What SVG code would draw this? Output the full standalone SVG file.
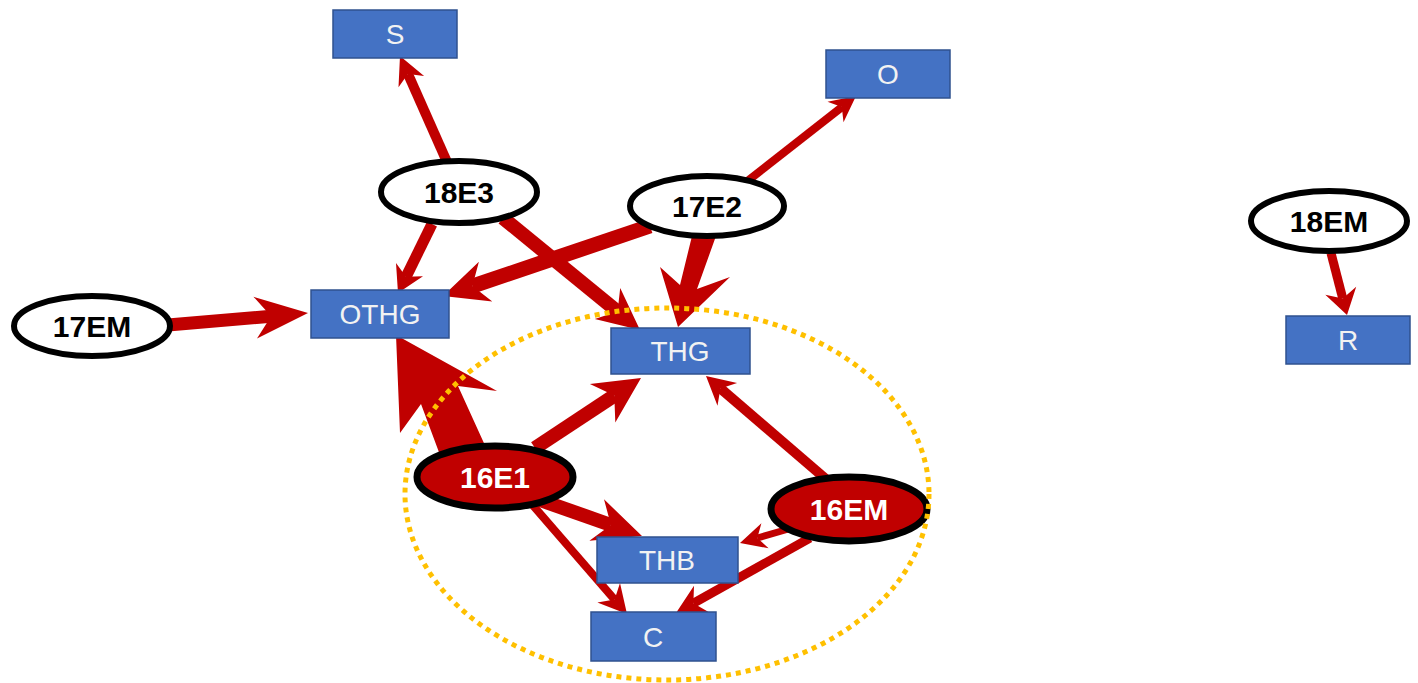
<svg xmlns="http://www.w3.org/2000/svg" width="1418" height="683" viewBox="0 0 1418 683">
<style>
.box{fill:#4472C4;stroke:#2F528F;stroke-width:1.5}
.bt{font-family:"Liberation Sans",Arial,sans-serif;font-size:28px;fill:#F2F2F2;text-anchor:middle;dominant-baseline:central}
.ov{fill:#FFFFFF;stroke:#000000;stroke-width:6}
.ovr{fill:#C00000;stroke:#000000;stroke-width:7}
.ot{font-family:"Liberation Sans",Arial,sans-serif;font-size:30px;font-weight:bold;fill:#000000;text-anchor:middle;dominant-baseline:central}
.otw{fill:#FFFFFF}
.sh{stroke:#C00000;fill:none;stroke-linecap:butt}
.hd{fill:#C00000;stroke:none}
.grp{fill:none;stroke:#FFC000;stroke-width:5;stroke-dasharray:5 5}
</style>
<rect width="1418" height="683" fill="#FFFFFF"/>
<g id="connectors">
  <line class="sh" x1="447" y1="162" x2="408" y2="74" stroke-width="10"/>
  <polygon class="hd" points="400,56 424.1,75.9 407.9,73.9 398.5,87.3"/>
  <line class="sh" x1="745" y1="183" x2="842" y2="107" stroke-width="8"/>
  <polygon class="hd" points="856,96 843.5,122.2 841.8,107.1 827.5,101.8"/>
  <line class="sh" x1="432" y1="224" x2="406" y2="277" stroke-width="11"/>
  <polygon class="hd" points="398,293 423,276.3 406,276.7 396,263.1"/>
  <line class="sh" x1="503" y1="218" x2="617.6" y2="311.6" stroke-width="14"/>
  <polygon class="hd" points="640,330 594.8,318.9 617.6,311.6 620.2,287.9"/>
  <line class="sh" x1="650" y1="226" x2="472.4" y2="286.1" stroke-width="15"/>
  <polygon class="hd" points="443,296 492.3,301.5 472.4,286.1 478.9,261.7"/>
  <polygon class="hd" points="678,327 730,277 697,289 716,236 692,236 680,285 660,267"/>
  <line class="sh" x1="168" y1="325" x2="271.1" y2="316.2" stroke-width="13"/>
  <polygon class="hd" points="308,313 257,338.5 271.1,316.2 253.4,296.7"/>
  <line class="sh" x1="1331" y1="253" x2="1342.75" y2="298.5" stroke-width="9"/>
  <polygon class="hd" points="1347,315 1325.3,294.8 1342.75,298.5 1356.2,286.8"/>
  <polygon class="hd" points="396,335 497,391 458,386 488,452 440,455 421,404 400,433"/>
  <line class="sh" x1="535" y1="448" x2="614.3" y2="395.6" stroke-width="14"/>
  <polygon class="hd" points="641,378 615.3,422.5 614.3,395.6 589.9,384.1"/>
  <line class="sh" x1="540" y1="500" x2="610.9" y2="525" stroke-width="14"/>
  <polygon class="hd" points="642,536 589.4,540.7 610.9,525 604,499.3"/>
  <line class="sh" x1="530" y1="502" x2="614.6" y2="599.6" stroke-width="8"/>
  <polygon class="hd" points="627,614 597.4,602.6 614.6,599.6 620,583"/>
  <line class="sh" x1="827" y1="480" x2="720.4" y2="388.4" stroke-width="10"/>
  <polygon class="hd" points="706,376 737.1,382.9 720.4,388.4 717.5,405.7"/>
  <line class="sh" x1="792" y1="528" x2="757.3" y2="538" stroke-width="7"/>
  <polygon class="hd" points="740,543 768.6,548.3 757.3,538 761.4,523.3"/>
  <line class="sh" x1="810" y1="538" x2="693.4" y2="603.2" stroke-width="9"/>
  <polygon class="hd" points="676,613 708.6,611.9 693.4,603.2 694,585.7"/>
</g>
<g id="node-S"><rect class="box" x="333" y="10" width="124" height="48"/><text class="bt" x="395" y="34">S</text></g>
<g id="node-O"><rect class="box" x="826" y="50" width="124" height="48"/><text class="bt" x="888" y="74">O</text></g>
<g id="node-OTHG"><rect class="box" x="311" y="290" width="138" height="48"/><text class="bt" x="380" y="314">OTHG</text></g>
<g id="node-THG"><rect class="box" x="611" y="328" width="139" height="46"/><text class="bt" x="680" y="351">THG</text></g>
<g id="node-THB"><rect class="box" x="597" y="537" width="141" height="46"/><text class="bt" x="667" y="560">THB</text></g>
<g id="node-C"><rect class="box" x="591" y="612" width="125" height="49"/><text class="bt" x="653" y="637">C</text></g>
<g id="node-R"><rect class="box" x="1286" y="316" width="124" height="48"/><text class="bt" x="1348" y="340">R</text></g>
<g id="node-18E3"><ellipse class="ov" cx="459" cy="192" rx="78" ry="31"/><text class="ot" x="459" y="192">18E3</text></g>
<g id="node-17E2"><ellipse class="ov" cx="707" cy="206" rx="77" ry="30"/><text class="ot" x="707" y="206">17E2</text></g>
<g id="node-17EM"><ellipse class="ov" cx="92" cy="326" rx="78" ry="30"/><text class="ot" x="92" y="326">17EM</text></g>
<g id="node-18EM"><ellipse class="ov" cx="1329" cy="221" rx="78" ry="30"/><text class="ot" x="1329" y="221">18EM</text></g>
<g id="node-16E1"><ellipse class="ovr" cx="495" cy="477" rx="78" ry="31"/><text class="ot otw" x="495" y="477">16E1</text></g>
<g id="node-16EM"><ellipse class="ovr" cx="849" cy="509" rx="78" ry="32"/><text class="ot otw" x="849" y="509">16EM</text></g>
<ellipse id="group-outline" class="grp" cx="667" cy="494" rx="262" ry="186"/>
</svg>
